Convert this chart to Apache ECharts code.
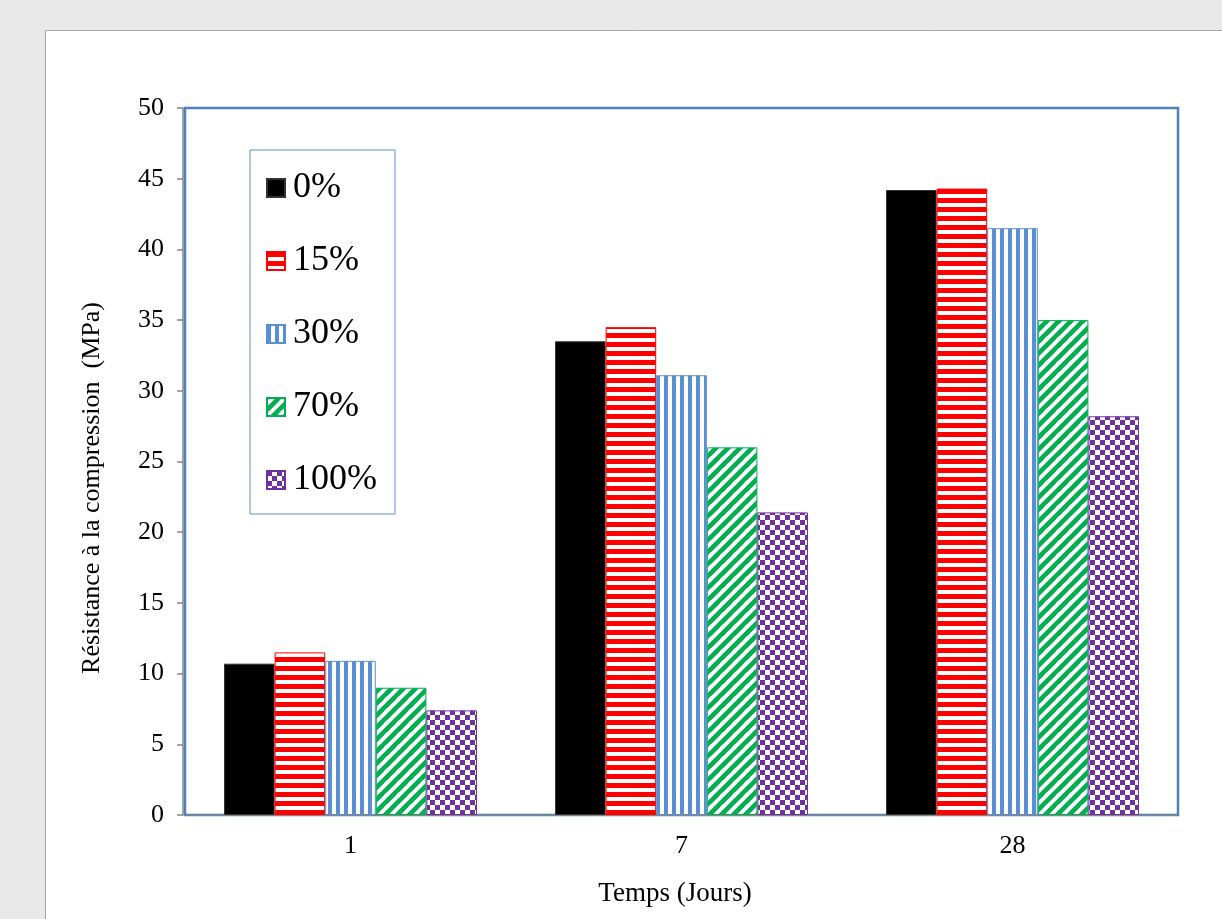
<!DOCTYPE html>
<html>
<head>
<meta charset="utf-8">
<script src="https://cdn.jsdelivr.net/npm/echarts@6/dist/echarts.min.js"></script>
<style>
  html, body { margin: 0; padding: 0; background: #e8e8e8; }
  #chart { width: 1222px; height: 919px; }
</style>
</head>
<body>
<div id="chart"></div>
<script>
// Compressive strength by curing age and replacement ratio
const categories = ['1', '7', '28'];
const seriesNames = ['0%', '15%', '30%', '70%', '100%'];
const values0 = [10.7, 33.5, 44.2];
const values15 = [11.5, 34.5, 44.3];
const values30 = [10.9, 31.1, 41.5];
const values70 = [9.0, 26.0, 35.0];
const values100 = [7.4, 21.4, 28.2];
const yMin = 0, yMax = 50, yStep = 5;

const SERIF = "'Liberation Serif', 'Times New Roman', serif";

// Fill patterns drawn on small tiles
function tile(w, h, draw) {
  const c = document.createElement('canvas');
  c.width = w; c.height = h;
  const g = c.getContext('2d');
  g.fillStyle = '#ffffff';
  g.fillRect(0, 0, w, h);
  draw(g, w, h);
  return { image: c, repeat: 'repeat' };
}
const solidBlack = '#000000';
const redStripes = tile(9, 9, (g) => { g.fillStyle = '#ff0000'; g.fillRect(0, 0, 9, 5); });
const blueStripes = tile(8, 8, (g) => { g.fillStyle = '#5b8fd3'; g.fillRect(0, 0, 4, 8); });
const greenDiag = tile(12, 12, (g, w, h) => {
  g.strokeStyle = '#00b050'; g.lineWidth = 4.2; g.lineCap = 'square';
  [[-w, h, 0, 0], [0, h, w, 0], [w, h, 2 * w, 0], [0, 2 * h, 2 * w, 0], [-w, 2 * h, w, 0]].forEach(l => {
    g.beginPath(); g.moveTo(l[0], l[1]); g.lineTo(l[2], l[3]); g.stroke();
  });
});
const purpleCheck = tile(10, 10, (g) => {
  g.fillStyle = '#7030a0';
  g.fillRect(0, 0, 5, 5); g.fillRect(5, 5, 5, 5);
});

const fills = [solidBlack, redStripes, blueStripes, greenDiag, purpleCheck];
const borders = ['#333333', '#ff0000', '#5b8fd3', '#00b050', '#7030a0'];
const dataSets = [values0, values15, values30, values70, values100];

const chart = echarts.init(document.getElementById('chart'), null, { renderer: 'canvas' });

const series = seriesNames.map((name, i) => ({
  name: name,
  type: 'bar',
  data: dataSets[i],
  barWidth: 50.6,
  barGap: '0%',
  itemStyle: { color: fills[i], borderColor: borders[i], borderWidth: 1 },
  emphasis: { disabled: true }
}));

chart.setOption({
  backgroundColor: '#e8e8e8',
  animation: false,
  graphic: [
    {
      type: 'rect', z: -10, silent: true,
      shape: { x: 45.5, y: 30.5, width: 1300, height: 1000 },
      style: { fill: '#ffffff', stroke: '#a6a6a6', lineWidth: 1 }
    },
    {
      type: 'text', z: 10, silent: true,
      x: 92, y: 488, rotation: Math.PI / 2,
      style: {
        text: 'Résistance à la compression  (MPa)',
        font: '26px ' + SERIF, fill: '#000', align: 'center', verticalAlign: 'middle'
      }
    },
    {
      type: 'text', z: 10, silent: true,
      x: 675, y: 894,
      style: {
        text: 'Temps (Jours)',
        font: '27px ' + SERIF, fill: '#000', align: 'center', verticalAlign: 'middle'
      }
    }
  ],
  grid: {
    left: 185, right: 44, top: 108, bottom: 104,
    show: true, backgroundColor: 'transparent',
    borderColor: '#4f81bd', borderWidth: 2.5
  },
  legend: {
    orient: 'vertical',
    left: 250, top: 150,
    padding: [20, 18, 16, 16],
    itemGap: 37,
    itemWidth: 18, itemHeight: 18,
    borderColor: '#5b8fd3', borderWidth: 1,
    backgroundColor: '#ffffff',
    selectedMode: false,
    textStyle: { fontFamily: SERIF, fontSize: 36, lineHeight: 36, color: '#000', padding: [0, 0, 0, 3] },
    data: seriesNames.map(n => ({ name: n, icon: 'rect' }))
  },
  xAxis: {
    type: 'category',
    data: categories,
    axisLine: { show: true, lineStyle: { color: '#868686', width: 1 } },
    axisTick: { show: false },
    axisLabel: { fontFamily: SERIF, fontSize: 26, color: '#000', margin: 18 }
  },
  yAxis: {
    type: 'value',
    min: yMin, max: yMax, interval: yStep,
    offset: 2,
    splitLine: { show: false },
    axisLine: { show: true, lineStyle: { color: '#868686', width: 1.5 } },
    axisTick: { show: true, length: 6, lineStyle: { color: '#868686', width: 1.5 } },
    axisLabel: { fontFamily: SERIF, fontSize: 26, color: '#000', margin: 19 }
  },
  series: series
});
</script>
</body>
</html>
